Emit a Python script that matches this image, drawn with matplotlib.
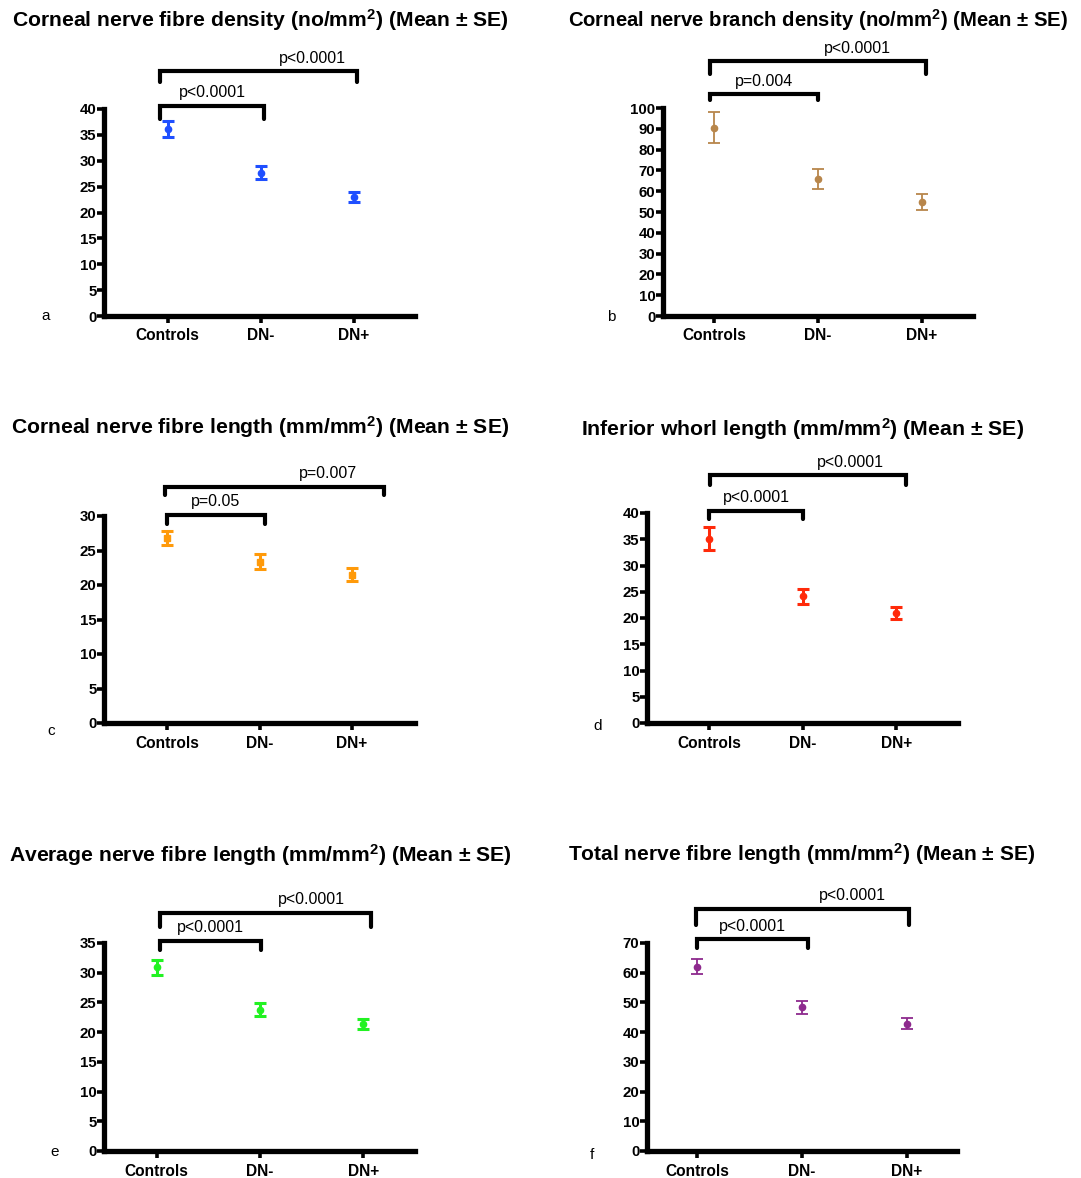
import matplotlib
matplotlib.use("Agg")
import matplotlib.pyplot as plt

plt.rcParams['font.family'] = ['Liberation Sans', 'DejaVu Sans']
plt.rcParams['mathtext.fontset'] = 'custom'
plt.rcParams['mathtext.rm'] = 'Liberation Sans:bold'
plt.rcParams['mathtext.default'] = 'rm'

categories = ["Controls", "DN-", "DN+"]

# mean and SE for each panel
cnfd_mean = [36.2, 27.7, 23.0]
cnfd_se = [1.55, 1.2, 1.05]
cnbd_mean = [90.5, 65.9, 55.0]
cnbd_se = [7.4, 4.9, 3.85]
cnfl_mean = [26.8, 23.4, 21.5]
cnfl_se = [1.05, 1.1, 0.9]
iwl_mean = [35.1, 24.1, 20.9]
iwl_se = [2.2, 1.4, 1.15]
anfl_mean = [30.9, 23.8, 21.35]
anfl_se = [1.3, 1.15, 0.85]
tnfl_mean = [62.0, 48.3, 42.9]
tnfl_se = [2.55, 2.2, 1.8]

titles = [
    "Corneal nerve fibre density (no/mm$^2$) (Mean ± SE)",
    "Corneal nerve branch density (no/mm$^2$) (Mean ± SE)",
    "Corneal nerve fibre length (mm/mm$^2$) (Mean ± SE)",
    "Inferior whorl length (mm/mm$^2$) (Mean ± SE)",
    "Average nerve fibre length (mm/mm$^2$) (Mean ± SE)",
    "Total nerve fibre length (mm/mm$^2$) (Mean ± SE)",
]
letters = ["a", "b", "c", "d", "e", "f"]
p_inner = ["p<0.0001", "p=0.004", "p=0.05", "p<0.0001", "p<0.0001", "p<0.0001"]
p_outer = ["p<0.0001", "p<0.0001", "p=0.007", "p<0.0001", "p<0.0001", "p<0.0001"]
ymax = [40, 100, 30, 40, 35, 70]
ystep = [5, 10, 5, 5, 5, 10]

means = [cnfd_mean, cnbd_mean, cnfl_mean, iwl_mean, anfl_mean, tnfl_mean]
ses = [cnfd_se, cnbd_se, cnfl_se, iwl_se, anfl_se, tnfl_se]

# bracket heights: (top, tail end) for inner and outer bracket
inner_y = [(40.6, 38.0), (106.7, 104.0), (30.15, 28.8), (40.4, 38.9), (35.4, 33.8), (71.3, 68.3)]
outer_y = [(47.3, 45.2), (122.5, 116.5), (34.25, 33.1), (47.2, 45.4), (40.1, 37.7), (81.6, 76.2)]

# layout (pixels) and styling per panel
W, H = 1081, 1178
boxes = [(104, 415, 109, 316), (663, 973, 108, 316),
         (104, 415, 516, 723), (647, 958, 513, 723),
         (104, 415, 943, 1151), (647, 957, 943, 1151)]
xlims = [(-0.683, 2.657), (-0.49, 2.49), (-0.68, 2.68),
         (-0.66, 2.66), (-0.51, 2.5), (-0.48, 2.48)]
inner_x = [(-0.085, 1.04), (-0.035, 1.0), (0.0, 1.055), (0.0, 1.01), (0.03, 1.01), (0.0, 1.06)]
outer_x = [(-0.085, 2.03), (-0.035, 2.04), (-0.02, 2.34), (0.015, 2.1), (0.03, 2.07), (-0.015, 2.02)]
outer_tx = [1.56, 1.38, 1.74, 1.51, 1.5, 1.48]
title_pos = [(260, 20), (818, 20), (260, 427), (803, 429), (260, 855), (802, 854)]
title_fs = [15.2, 14.6, 15.2, 15.3, 15.25, 15.1]
letter_pos = [(46, 316), (611, 317), (51, 731), (598, 726), (55, 1152), (592, 1155)]
colors = ["#1f4fff", "#b8864b", "#ff9a0a", "#ff2a0a", "#22f222", "#8e2a8e"]
markers = ["o", "o", "s", "o", "o", "o"]
elw = [2.2, 1.3, 2.2, 2.2, 2.2, 1.3]

fig = plt.figure(figsize=(W / 100, H / 100), dpi=100)

for i in range(6):
    x0, x1, yt, yb = boxes[i]
    ax = fig.add_axes([x0 / W, 1 - yb / H, (x1 - x0) / W, (yb - yt) / H])
    xs = list(range(len(categories)))
    ax.errorbar(xs, means[i], yerr=ses[i], fmt=markers[i], color=colors[i],
                ms=4.5, elinewidth=elw[i], capsize=4, capthick=elw[i], clip_on=False)

    ax.set_xlim(*xlims[i])
    ax.set_ylim(0, ymax[i])
    ax.set_yticks(range(0, ymax[i] + 1, ystep[i]))
    ax.set_xticks(xs)
    ax.set_xticklabels(categories)
    for s in ["top", "right"]:
        ax.spines[s].set_visible(False)
    for s in ["left", "bottom"]:
        ax.spines[s].set_linewidth(3.8)
    ax.tick_params(axis="both", width=2.6, length=5, labelsize=10.8)
    ax.tick_params(axis="y", pad=0.5)
    ax.tick_params(axis="x", pad=4, labelsize=11.2)
    for lab in ax.get_xticklabels() + ax.get_yticklabels():
        lab.set_fontweight("bold")

    # significance brackets
    for (bx, by, txt, tx) in [(inner_x[i], inner_y[i], p_inner[i], None),
                              (outer_x[i], outer_y[i], p_outer[i], outer_tx[i])]:
        top, tail = by
        ax.plot([bx[0], bx[0], bx[1], bx[1]], [tail, top, top, tail], color="black",
                lw=3, clip_on=False, solid_capstyle="round", solid_joinstyle="miter")
        if tx is None:
            tx = (bx[0] + bx[1]) / 2
        ax.annotate(txt, (tx, top), xytext=(0, 4), textcoords="offset points",
                    ha="center", va="bottom", fontsize=11.5, annotation_clip=False)

    fig.text(title_pos[i][0] / W, 1 - title_pos[i][1] / H, titles[i],
             ha="center", va="center", fontsize=title_fs[i], fontweight="bold")
    fig.text(letter_pos[i][0] / W, 1 - letter_pos[i][1] / H, letters[i],
             ha="center", va="center", fontsize=11)

fig.savefig("out.png", dpi=100)
